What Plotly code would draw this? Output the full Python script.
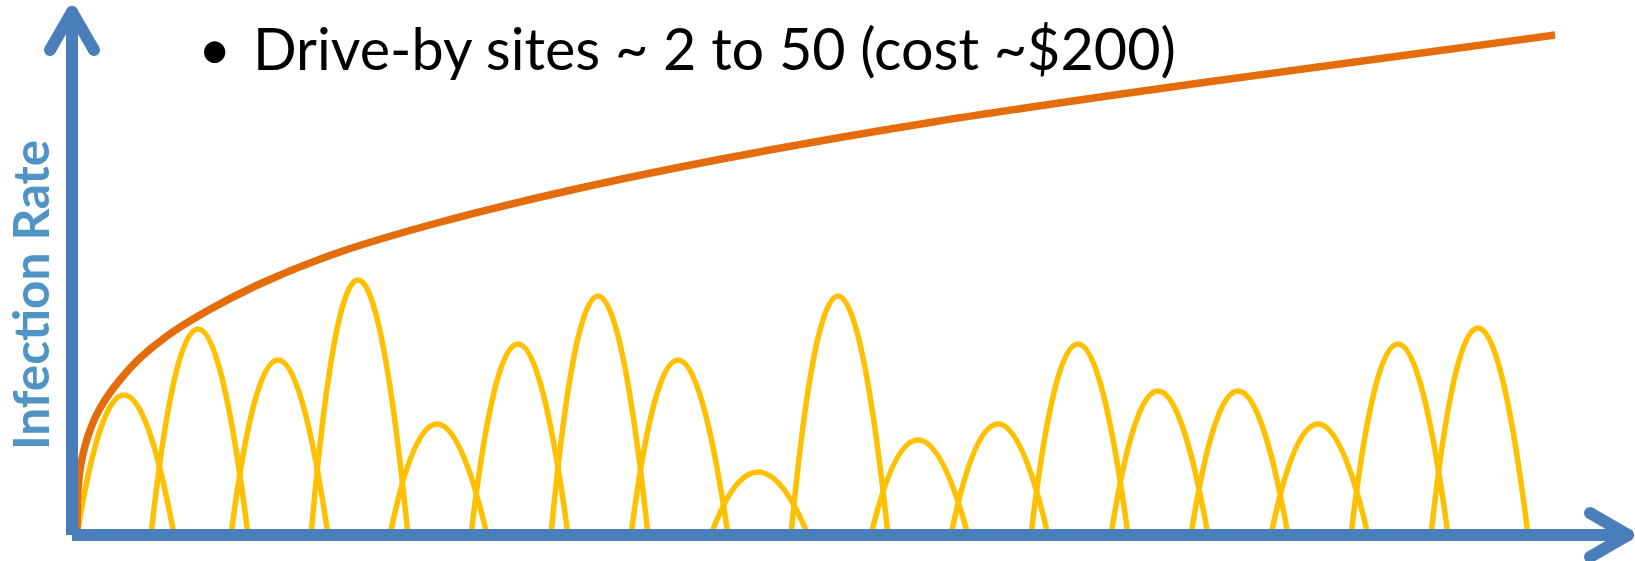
import plotly.graph_objects as go

# ---- data (x = time units from origin, y = infection rate units) ----
hump_start = [5, 79, 159, 239, 318, 399, 479, 559, 639, 719, 799, 879, 959, 1039, 1119, 1199, 1279, 1359]
hump_peak = [52, 126, 206, 286, 365, 446, 526, 606, 686, 766, 846, 926, 1006, 1086, 1166, 1246, 1326, 1406]
hump_end = [102, 176, 256, 336, 415, 496, 576, 656, 736, 816, 896, 976, 1056, 1136, 1216, 1296, 1376, 1456]
hump_height = [140, 206, 175, 255, 111, 191, 239, 175, 63, 239, 95, 111, 191, 144, 144, 111, 191, 207]

total_x = [5, 5.3, 6, 8, 11, 16, 23, 33, 47, 67, 95, 135, 190, 265, 365, 495, 655, 855, 1085, 1305, 1483]
total_y = [0, 30, 45, 65, 81, 99, 117, 135, 154, 176, 199, 224, 252, 282, 312, 344, 377, 412, 446, 476, 500]

title_text = "Drive-by sites ~ 2 to 50 (cost ~$200)"
y_label = "Infection Rate"

AXIS_BLUE = "#4A7EBB"
YELLOW = "#FFC000"
ORANGE = "#E46C0A"
LABEL_BLUE = "#4F94C4"

fig = go.Figure()

# yellow humps: quadratic Bezier arcs (apex height = hump_height)
shapes = []
for s, p, e, h in zip(hump_start, hump_peak, hump_end, hump_height):
    cx = (4 * p - s - e) / 2.0
    shapes.append(dict(
        type="path", xref="x", yref="y", layer="below",
        path=f"M {s},0 Q {cx},{2 * h} {e},0",
        line=dict(color=YELLOW, width=5.5),
        fillcolor="rgba(0,0,0,0)",
    ))

# orange cumulative curve
fig.add_trace(go.Scatter(
    x=total_x, y=total_y, mode="lines",
    line=dict(color=ORANGE, width=7.5, shape="spline", smoothing=1.0),
    hoverinfo="skip", showlegend=False,
))

# axes shafts
v_tip = 523
h_tip = 1556
head_len = 38
head_half = 22
fig.add_trace(go.Scatter(
    x=[0, 0, None, 0, h_tip], y=[0, v_tip, None, 0, 0], mode="lines",
    line=dict(color=AXIS_BLUE, width=12),
    hoverinfo="skip", showlegend=False,
))
# arrow heads (round caps via markers)
ah_x = [-head_half, 0, None, head_half, 0, None,
        h_tip - head_len, h_tip, None, h_tip - head_len, h_tip]
ah_y = [v_tip - head_len, v_tip, None, v_tip - head_len, v_tip, None,
        head_half, 0, None, -head_half, 0]
fig.add_trace(go.Scatter(
    x=ah_x, y=ah_y, mode="lines+markers",
    line=dict(color=AXIS_BLUE, width=12),
    marker=dict(color=AXIS_BLUE, size=12, line=dict(width=0)),
    hoverinfo="skip", showlegend=False,
))

annotations = [
    dict(text="•", x=142, y=488, xref="x", yref="y", xanchor="center", yanchor="middle",
         showarrow=False, font=dict(family="Lato", size=57.5, color="black")),
    dict(text=title_text, x=179, y=488, xref="x", yref="y", xanchor="left", yanchor="middle",
         showarrow=False, font=dict(family="Lato", size=57.5, color="black")),
    dict(text=f"<b>{y_label}</b>", x=-42, y=240, xref="x", yref="y", xanchor="center",
         yanchor="middle", textangle=-90, showarrow=False,
         font=dict(family="Lato", size=49.5, color=LABEL_BLUE)),
]

fig.update_layout(
    width=1635, height=561,
    margin=dict(l=0, r=0, t=0, b=0),
    paper_bgcolor="white", plot_bgcolor="white",
    xaxis=dict(range=[-72, 1563], visible=False, fixedrange=True),
    yaxis=dict(range=[-26, 535], visible=False, fixedrange=True),
    shapes=shapes, annotations=annotations,
    showlegend=False,
)

fig.write_html("out.html")
